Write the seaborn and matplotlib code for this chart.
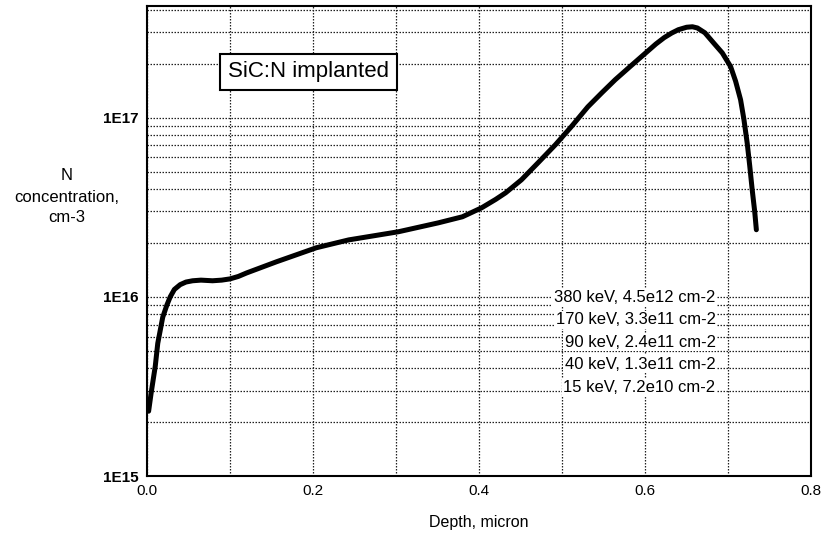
import matplotlib
matplotlib.use("Agg")
import matplotlib.pyplot as plt
import seaborn as sns
import pandas as pd
from matplotlib.ticker import FixedLocator, LogLocator, NullFormatter

# ---- data ----
depth_um = [0.002, 0.005, 0.010, 0.013, 0.019, 0.024, 0.028, 0.033, 0.040, 0.047,
            0.055, 0.065, 0.079, 0.090, 0.100, 0.110, 0.120, 0.156, 0.204, 0.243,
            0.303, 0.351, 0.380, 0.403, 0.420, 0.432, 0.451, 0.471, 0.492, 0.511,
            0.531, 0.548, 0.564, 0.583, 0.603, 0.613, 0.623, 0.632, 0.640, 0.650,
            0.657, 0.663, 0.672, 0.683, 0.693, 0.703, 0.709, 0.715, 0.719, 0.723,
            0.726, 0.729, 0.732, 0.734]
conc_cm3 = [2.3e15, 2.9e15, 4.1e15, 5.5e15, 7.7e15, 9.0e15, 1.0e16, 1.1e16, 1.17e16, 1.21e16,
            1.23e16, 1.24e16, 1.23e16, 1.24e16, 1.26e16, 1.30e16, 1.36e16, 1.57e16, 1.88e16, 2.08e16,
            2.31e16, 2.59e16, 2.8e16, 3.14e16, 3.5e16, 3.81e16, 4.5e16, 5.6e16, 7.07e16, 8.9e16,
            1.15e17, 1.38e17, 1.63e17, 1.95e17, 2.35e17, 2.58e17, 2.8e17, 2.97e17, 3.1e17, 3.2e17,
            3.22e17, 3.17e17, 2.98e17, 2.6e17, 2.3e17, 1.93e17, 1.6e17, 1.26e17, 9.8e16, 7.2e16,
            5.4e16, 3.96e16, 3.0e16, 2.37e16]

x_ticks = [0.0, 0.2, 0.4, 0.6, 0.8]
x_tick_labels = ["0.0", "0.2", "0.4", "0.6", "0.8"]
y_ticks = [1e15, 1e16, 1e17]
y_tick_labels = ["1E15", "1E16", "1E17"]
implant_labels = ["380 keV, 4.5e12 cm-2",
                  "170 keV, 3.3e11 cm-2",
                  "90 keV, 2.4e11 cm-2",
                  "40 keV, 1.3e11 cm-2",
                  "15 keV, 7.2e10 cm-2"]
title_text = "SiC:N implanted"
x_label = "Depth, micron"
y_label = "N\nconcentration,\ncm-3"

df = pd.DataFrame({"depth": depth_um, "conc": conc_cm3})

sns.set_style("white")
plt.rcParams["font.family"] = ["Liberation Sans", "DejaVu Sans"]
plt.rcParams["text.color"] = "black"
plt.rcParams["axes.labelcolor"] = "black"

fig = plt.figure(figsize=(8.21, 5.34), dpi=100)
ax = fig.add_axes([0.179, 0.1086, 0.809, 0.880])

sns.lineplot(data=df, x="depth", y="conc", ax=ax, color="black", linewidth=3.6,
             sort=False, estimator=None)
ax.lines[-1].set_solid_joinstyle("round")
ax.lines[-1].set_solid_capstyle("round")

ax.set_yscale("log")
ax.set_xlim(0.0, 0.8)
ax.set_ylim(1e15, 4.2e17)

ax.xaxis.set_major_locator(FixedLocator(x_ticks))
ax.set_xticklabels(x_tick_labels)
ax.xaxis.set_minor_locator(FixedLocator([0.1, 0.3, 0.5, 0.7]))
ax.yaxis.set_major_locator(FixedLocator(y_ticks))
ax.set_yticklabels(y_tick_labels)
ax.yaxis.set_minor_locator(LogLocator(base=10, subs=[2, 3, 4, 5, 6, 7, 8, 9]))
ax.yaxis.set_minor_formatter(NullFormatter())

grid_kw = dict(color="#222222", linestyle=(0, (1.2, 1.2)), linewidth=0.9)
ax.grid(True, which="both", axis="both", **grid_kw)
ax.set_axisbelow(True)

ax.tick_params(axis="both", which="both", length=0, pad=6, labelsize=11, colors="black")
for lab in ax.get_yticklabels():
    lab.set_fontweight("bold")

for s in ax.spines.values():
    s.set_color("black")
    s.set_linewidth(1.5)

ax.set_xlabel(x_label, fontsize=11.5, labelpad=12, color="black")
ax.set_ylabel("")
fig.text(67 / 821, 1 - 197 / 534, y_label, ha="center", va="center",
         fontsize=12, linespacing=1.5, color="black")

ax.text(0.243, 0.86, title_text, transform=ax.transAxes, ha="center", va="center",
        fontsize=16, zorder=5, color="black",
        bbox=dict(boxstyle="square,pad=0.35", facecolor="white", edgecolor="black", linewidth=1.5))

y_fracs = [0.379, 0.332, 0.285, 0.238, 0.189]
for lab, yf in zip(implant_labels, y_fracs):
    ax.text(0.856, yf, lab, transform=ax.transAxes, ha="right", va="center",
            fontsize=12, zorder=5, color="black",
            bbox=dict(boxstyle="square,pad=0.1", facecolor="white", edgecolor="none"))

fig.savefig("out.png", dpi=100)
